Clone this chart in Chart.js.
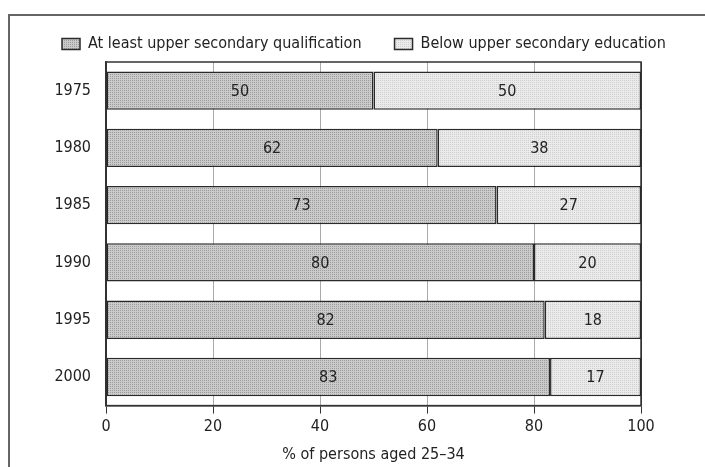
<!DOCTYPE html>
<html>
<head>
<meta charset="utf-8">
<script src="https://cdn.jsdelivr.net/npm/chart.js@4/dist/chart.umd.min.js"></script>
<style>
  html, body { margin: 0; padding: 0; background: #fff; }
  #frame { position: absolute; left: 8px; top: 14px; width: 705px; height: 460px;
           border-top: 2px solid #666; border-left: 2px solid #666; }
  #wrap { position: absolute; left: 0; top: 0; width: 705px; height: 467px; }
</style>
</head>
<body>
<div id="frame"></div>
<div id="wrap"><canvas id="myChart"></canvas></div>
<script>
// data
const years = ["1975", "1980", "1985", "1990", "1995", "2000"];
const upperSecondary = [50, 62, 73, 80, 82, 83];
const belowUpperSecondary = [50, 38, 27, 20, 18, 17];
const xTicks = [0, 20, 40, 60, 80, 100];

const FONT = "'Liberation Sans Narrow', 'DejaVu Sans Condensed', 'Roboto', sans-serif";

// little dotted fills, like the print screen
function dots(dot, base) {
    const c = document.createElement('canvas');
    c.width = 2; c.height = 2;
    const g = c.getContext('2d');
    g.fillStyle = base; g.fillRect(0, 0, 2, 2);
    g.fillStyle = dot; g.fillRect(0, 0, 1, 1);
    return g.createPattern(c, 'repeat');
}
const darkFill = dots('#9a9a9a', '#cbcbcb');
const lightFill = dots('#cdcdcd', '#ebebeb');

// numbers in the middle of each piece of bar
const barValues = {
    id: 'barValues',
    afterDatasetsDraw(chart) {
        const ctx = chart.ctx;
        ctx.save();
        ctx.font = "16px " + FONT;
        ctx.fillStyle = '#222';
        ctx.textAlign = 'center';
        ctx.textBaseline = 'middle';
        chart.data.datasets.forEach(function (ds, i) {
            chart.getDatasetMeta(i).data.forEach(function (bar, j) {
                const p = bar.getCenterPoint();
                ctx.fillText(ds.data[j], p.x, p.y + 1);
            });
        });
        ctx.restore();
    }
};

// dark box round the plot
const plotBox = {
    id: 'plotBox',
    beforeDatasetsDraw(chart) {
        const a = chart.chartArea;
        const ctx = chart.ctx;
        ctx.save();
        ctx.strokeStyle = '#333';
        ctx.lineWidth = 1.5;
        ctx.strokeRect(a.left, a.top, a.right - a.left, a.bottom - a.top);
        ctx.restore();
    }
};

Chart.defaults.font.family = FONT;
Chart.defaults.font.size = 16;
Chart.defaults.color = '#222';

new Chart(document.getElementById('myChart'), {
    type: 'bar',
    data: {
        labels: years,
        datasets: [{
            label: 'At least upper secondary qualification',
            data: upperSecondary,
            backgroundColor: darkFill,
            borderColor: '#2a2a2a',
            borderWidth: 1.5,
            borderSkipped: false
        },
        {
            label: 'Below upper secondary education',
            data: belowUpperSecondary,
            backgroundColor: lightFill,
            borderColor: '#2a2a2a',
            borderWidth: 1.5,
            borderSkipped: false
        }]
    },
    options: {
        indexAxis: 'y',
        responsive: true,
        maintainAspectRatio: false,
        animation: false,
        layout: { padding: { left: 29, right: 0, top: 3, bottom: 3 } },
        datasets: { bar: { categoryPercentage: 1, barPercentage: 0.67 } },
        plugins: {
            legend: {
                position: 'top',
                align: 'start',
                labels: {
                    boxWidth: 18,
                    boxHeight: 11,
                    padding: 33,
                    color: '#222',
                    font: { size: 16 }
                }
            },
            tooltip: { enabled: false }
        },
        scales: {
            x: {
                stacked: true,
                min: 0,
                max: 100,
                afterBuildTicks: function (s) { s.ticks = xTicks.map(function (v) { return { value: v }; }); },
                grid: {
                    color: function (c) { return (c.tick && (c.tick.value === 0 || c.tick.value === 100)) ? '#333' : '#aaa'; },
                    tickColor: '#333',
                    tickLength: 8,
                    lineWidth: 1
                },
                border: { color: '#333', width: 1.5 },
                ticks: { padding: 4, color: '#222' },
                title: { display: true, text: '% of persons aged 25–34', color: '#222', padding: { top: 4, bottom: 0 } }
            },
            y: {
                stacked: true,
                afterFit: function (s) { s.width = 77; },
                grid: { display: false, drawTicks: false },
                border: { color: '#333', width: 1.5 },
                ticks: { padding: 15, color: '#222' }
            },
            yRight: {
                type: 'category',
                position: 'right',
                labels: years,
                afterFit: function (s) { s.width = 64; },
                grid: { display: false },
                border: { display: false },
                ticks: { display: false }
            }
        }
    },
    plugins: [barValues, plotBox]
});
</script>
</body>
</html>
